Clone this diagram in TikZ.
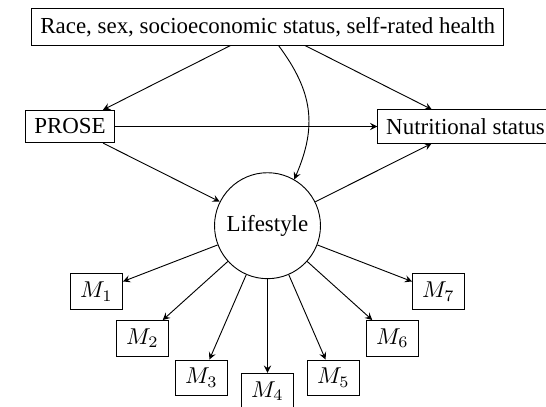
\documentclass[tikz,border=0pt]{standalone}
\usepackage[no-math]{fontspec}
\setmainfont{Liberation Serif}
\usetikzlibrary{arrows}

\begin{document}
\begin{tikzpicture}[x=0.436pt,y=0.436pt,>=stealth,
  box/.style={draw,inner sep=3.7pt},
  mbox/.style={draw,minimum width=22.7pt,minimum height=15.5pt,inner sep=0pt}]
  \useasboundingbox (0,0) rectangle (546,406);
  \node[box] (cov) at (267.7,379.3) {Race, sex, socioeconomic status, self-rated health};
  \node[box] (prose) at (70,279.5) {PROSE};
  \node[box,anchor=west] (nut) at (377.3,279.5) {Nutritional status};
  \node[draw,circle,minimum size=46.2pt,inner sep=0pt] (life) at (267.5,180.3) {Lifestyle};
  \node[mbox] (m1) at (96.5,114.3) {$M_1$};
  \node[mbox] (m2) at (142.5,67.7) {$M_2$};
  \node[mbox] (m3) at (201.5,28.2) {$M_3$};
  \node[mbox] (m4) at (267.5,15) {$M_4$};
  \node[mbox] (m5) at (333.5,28.2) {$M_5$};
  \node[mbox] (m6) at (392.5,67.7) {$M_6$};
  \node[mbox] (m7) at (438.5,114.3) {$M_7$};
  \draw[->] (cov)--(prose);
  \draw[->] (cov)--(nut);
  \draw[->] (cov) to[bend left=30,looseness=1.1] (life);
  \draw[->] (prose)--(nut);
  \draw[->] (prose)--(life);
  \draw[->] (life)--(nut);
  \foreach \i in {1,...,7}
    \draw[->] (life)--(m\i);
\end{tikzpicture}
\end{document}
